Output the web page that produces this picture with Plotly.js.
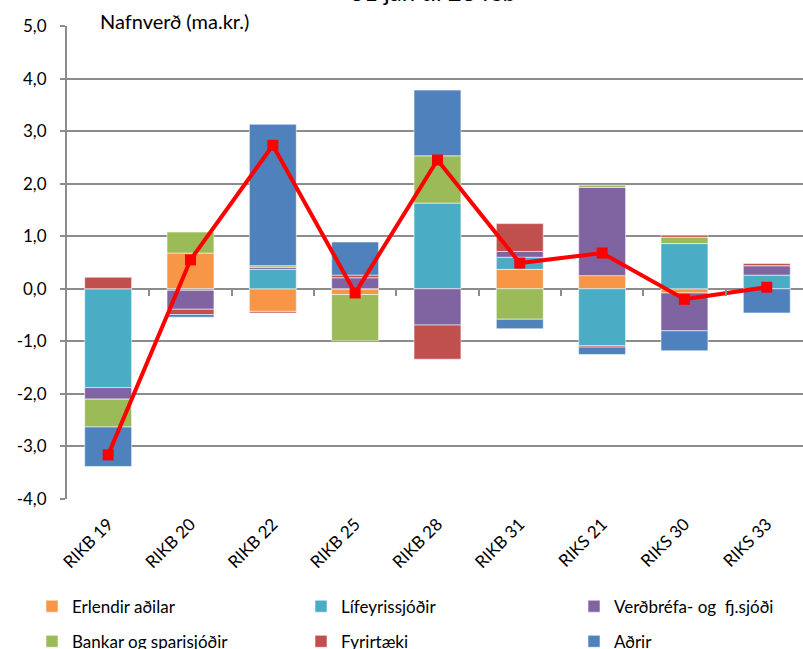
<!DOCTYPE html>
<html>
<head>
<meta charset="utf-8">
<script src="https://cdn.plot.ly/plotly-3.0.1.min.js"></script>
<style>html,body{margin:0;padding:0;overflow:hidden;background:#fff}</style>
</head>
<body>
<div id="chart" style="width:803px;height:649px"></div>
<script>
const categories = ["RIKB 19", "RIKB 20", "RIKB 22", "RIKB 25", "RIKB 28", "RIKB 31", "RIKS 21", "RIKS 30", "RIKS 33"];
const erlendir   = [0, 0.68, -0.43, -0.11, 0, 0.37, 0.25, -0.08, 0];
const lifeyris   = [-1.88, -0.03, 0.37, 0, 1.63, 0.23, -1.08, 0.86, 0.26];
const verdbrefa  = [-0.22, -0.36, 0.04, 0.21, -0.69, 0.11, 1.68, -0.72, 0.18];
const bankar     = [-0.53, 0.40, 0.03, -0.88, 0.90, -0.58, 0.04, 0.12, 0];
const fyrirtaeki = [0.22, -0.10, -0.03, 0.05, -0.65, 0.53, -0.03, 0.04, 0.04];
const adrir      = [-0.75, -0.05, 2.69, 0.63, 1.25, -0.18, -0.14, -0.38, -0.46];
const netto      = [-3.16, 0.55, 2.73, -0.08, 2.45, 0.49, 0.68, -0.20, 0.03];
const yTickVals  = [-4, -3, -2, -1, 0, 1, 2, 3, 4, 5];
const yTickText  = ["-4,0", "-3,0", "-2,0", "-1,0", "0,0", "1,0", "2,0", "3,0", "4,0", "5,0"];
const chartTitle = "31 jan til 28 feb";
const unitLabel  = "Nafnverð (ma.kr.)";

const FONT = "Lato, 'Open Sans', sans-serif";
const GRID = "#8c8c8c";

function bar(name, y, color, legend) {
  return {
    type: "bar", name: name, x: categories, y: y,
    marker: {color: color, line: {color: "rgba(255,255,255,0.55)", width: 1}},
    width: 0.57, legend: legend, legendgroup: name, hoverinfo: "x+y+name"
  };
}
const traces = [
  bar("Erlendir aðilar", erlendir, "#F79646", "legend"),
  bar("Lífeyrissjóðir", lifeyris, "#4BACC6", "legend2"),
  bar("Verðbréfa- og  fj.sjóði", verdbrefa, "#8064A2", "legend3"),
  bar("Bankar og sparisjóðir", bankar, "#9BBB59", "legend"),
  bar("Fyrirtæki", fyrirtaeki, "#C0504D", "legend2"),
  bar("Aðrir", adrir, "#4F81BD", "legend3"),
  {type: "scatter", mode: "lines+markers", x: categories, y: netto, name: "Samtals",
   line: {color: "#FF0000", width: 4}, marker: {symbol: "square", size: 11, color: "#FF0000"},
   showlegend: false},
  {type: "scatter", mode: "markers", x: categories.map((c, i) => i), y: categories.map(() => null),
   xaxis: "x2", yaxis: "y", showlegend: false, hoverinfo: "skip", marker: {opacity: 0}}
];

const legendBase = {
  orientation: "v", xref: "container", yref: "container", xanchor: "left", yanchor: "top",
  y: 0.093, traceorder: "grouped", tracegroupgap: 10,
  font: {family: FONT, size: 17, color: "#000"}, bgcolor: "rgba(0,0,0,0)"
};
const xRange = [-0.5, 8.44];

const layout = {
  width: 803, height: 649,
  margin: {l: 67, r: 0, t: 26, b: 150, autoexpand: false},
  paper_bgcolor: "#fff", plot_bgcolor: "#fff",
  barmode: "relative",
  font: {family: FONT, size: 17, color: "#000"},
  title: {text: chartTitle, font: {family: FONT, size: 24, color: "#000"},
          xref: "container", x: 433 / 803, xanchor: "center",
          yref: "container", y: 0.999, yanchor: "bottom"},
  xaxis: {type: "category", range: xRange, showgrid: false, showline: false, zeroline: false,
          ticks: "", tickangle: -45, ticklabelstandoff: 11,
          tickfont: {family: FONT, size: 17, color: "#000"}},
  xaxis2: {overlaying: "x", anchor: "free", position: 4 / 9, side: "bottom", range: xRange,
           showgrid: false, showline: false, zeroline: false, showticklabels: false,
           tickmode: "array", tickvals: [0.5, 1.5, 2.5, 3.5, 4.5, 5.5, 6.5, 7.5],
           ticks: "outside", ticklen: 6, tickwidth: 2, tickcolor: GRID},
  yaxis: {range: [-4, 5], tickmode: "array", tickvals: yTickVals, ticktext: yTickText,
          showgrid: true, gridcolor: GRID, gridwidth: 2,
          zeroline: true, zerolinecolor: GRID, zerolinewidth: 2,
          showline: true, linecolor: GRID, linewidth: 2,
          ticks: "outside", ticklen: 5, tickwidth: 2, tickcolor: GRID,
          ticklabelstandoff: 10, tickfont: {family: FONT, size: 17, color: "#000"}},
  legend: Object.assign({}, legendBase, {x: 32 / 803}),
  legend2: Object.assign({}, legendBase, {x: 301 / 803}),
  legend3: Object.assign({}, legendBase, {x: 574 / 803}),
  annotations: [{text: unitLabel, xref: "paper", yref: "paper", x: (98 - 67) / 736, y: (499 - 7) / 473,
                 xanchor: "left", yanchor: "top", showarrow: false,
                 font: {family: FONT, size: 20, color: "#000"}}],
  showlegend: true
};

Plotly.newPlot("chart", traces, layout, {displayModeBar: false, staticPlot: true});
</script>
</body>
</html>
